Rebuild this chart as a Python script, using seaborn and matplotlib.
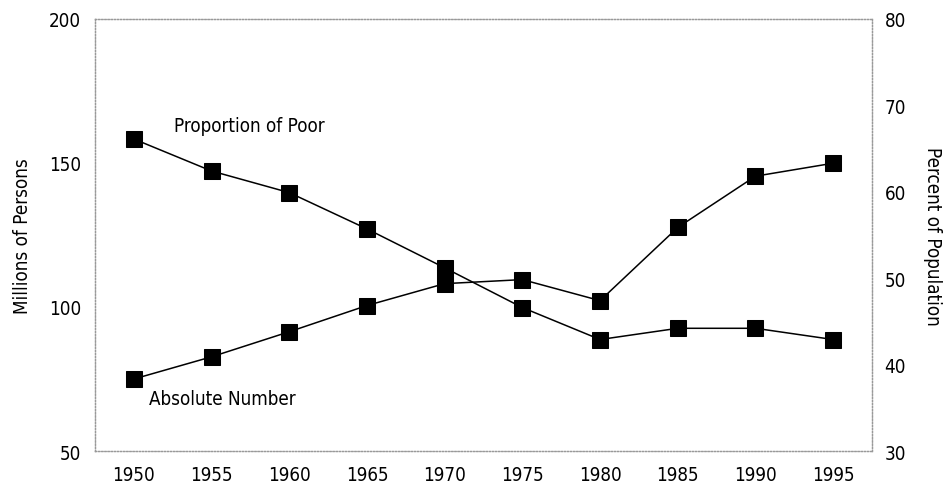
import numpy as np
import pandas as pd
import seaborn as sns
import matplotlib.pyplot as plt

# --- data ---
years = [1950, 1955, 1960, 1965, 1970, 1975, 1980, 1985, 1990, 1995]
absolute_number = [75.0, 82.7, 91.4, 100.5, 108.1, 109.5, 102.2, 127.6, 145.4, 149.9]  # millions
proportion_poor = [66.1, 62.4, 59.9, 55.7, 51.2, 46.6, 42.9, 44.2, 44.2, 42.9]  # percent

left_ticks = [50, 100, 150, 200]
right_ticks = [30, 40, 50, 60, 70, 80]

df = pd.DataFrame({'year': years, 'absolute': absolute_number, 'proportion': proportion_poor})

sns.set_theme(style='white')
plt.rcParams['font.family'] = ['DejaVu Sans']
plt.rcParams['font.stretch'] = 'condensed'
plt.rcParams['text.color'] = 'black'
plt.rcParams['axes.labelcolor'] = 'black'

fig = plt.figure(figsize=(9.46, 4.85), dpi=100)
ax = fig.add_axes([0.1004, 0.068, 0.8214, 0.891])
ax2 = ax.twinx()

line_kw = dict(color='black', marker='s', markersize=11, linewidth=1.1,
               markeredgecolor='black')
sns.lineplot(data=df, x='year', y='absolute', ax=ax, **line_kw)
sns.lineplot(data=df, x='year', y='proportion', ax=ax2, **line_kw)

ax.set_xlim(1947.5, 1997.5)
ax.set_ylim(50, 200)
ax2.set_ylim(30, 80)
ax.set_xticks(years)
ax.set_yticks(left_ticks)
ax2.set_yticks(right_ticks)

fs = 13.5
ax.tick_params(axis='both', length=0, labelsize=fs, pad=10, colors='black')
ax2.tick_params(axis='y', length=0, labelsize=fs, pad=9, colors='black')

ax.set_xlabel('')
ax.set_ylabel('Millions of Persons', fontsize=fs, labelpad=12)
ax2.set_ylabel('Percent of Population', fontsize=fs, rotation=270, labelpad=26)

for a in (ax, ax2):
    for s in a.spines.values():
        s.set_linestyle((0, (1, 1.5)))
        s.set_color('#999999')
        s.set_linewidth(0.9)

ax2.text(1952.6, 67.7, 'Proportion of Poor', fontsize=fs, va='center', ha='left')
ax.text(1951.0, 68.4, 'Absolute Number', fontsize=fs, va='center', ha='left')

fig.savefig('out.png', dpi=100)
